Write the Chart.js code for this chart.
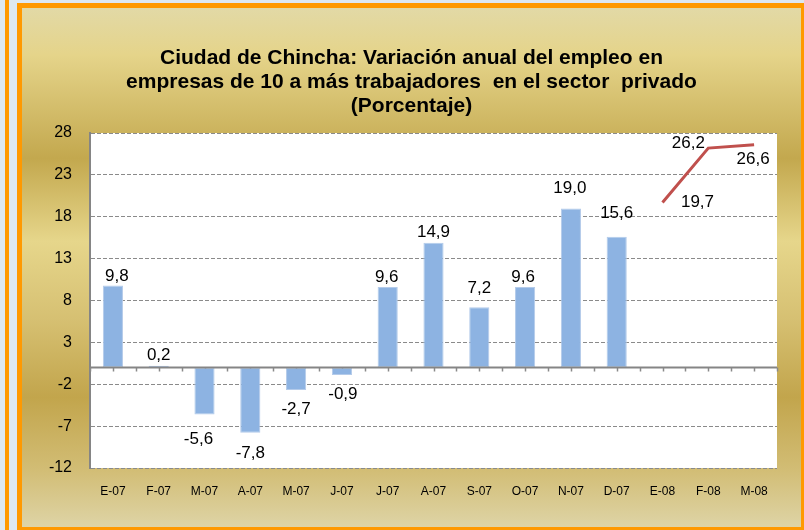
<!DOCTYPE html>
<html>
<head>
<meta charset="utf-8">
<script src="https://cdn.jsdelivr.net/npm/chart.js"></script>
<style>
  body { margin: 0; width: 804px; height: 530px; overflow: hidden; position: relative;
         background: #dde8f1; font-family: "Liberation Sans", Arial, sans-serif; }
  #stripe { position: absolute; left: 5px; top: 0; width: 4px; height: 530px; background: #ff9900; }
  #frame { position: absolute; left: 17px; top: 3px; width: 779px; height: 519px;
           border: solid #ff9900; border-width: 5px 3px 3px 5px;
           background: linear-gradient(to bottom, #e2d9a6 0%, #e5d48a 9%, #c3a84e 29%, #e6d68b 45%,
                                       #d6c072 60%, #c2a54c 75%, #d2bd75 89%, #ded4a6 100%); }
  canvas { display: block; }
</style>
</head>
<body>
<div id="stripe"></div>
<div id="frame"><canvas id="myChart" width="779" height="519"></canvas></div>
<script>
// datos
var meses = ['E-07', 'F-07', 'M-07', 'A-07', 'M-07', 'J-07', 'J-07', 'A-07', 'S-07', 'O-07', 'N-07', 'D-07', 'E-08', 'F-08', 'M-08'];
var var2007 = [9.8, 0.2, -5.6, -7.8, -2.7, -0.9, 9.6, 14.9, 7.2, 9.6, 19.0, 15.6, null, null, null];
var var2008 = [null, null, null, null, null, null, null, null, null, null, null, null, 19.7, 26.2, 26.6];
var yMin = -12;
var yMax = 28;
var yStep = 5;

var titulo = [
    'Ciudad de Chincha: Variación anual del empleo en',
    'empresas de 10 a más trabajadores  en el sector  privado',
    '(Porcentaje)'
];

// desplazamiento de etiquetas (px) respecto al extremo de cada marca
var offBarras = [[4, -9], [0, -11], [-6, 25], [0, 20], [0, 19], [1, 19], [-1, -10], [0, -10], [0, -19], [-2, -10], [-1, -20], [0, -24]];
var offLinea = { 12: [35, 0], 13: [-20, -5], 14: [-1, 15] };

var fondoPlot = {
    id: 'fondoPlot',
    beforeDraw: function (chart) {
        let a = chart.chartArea;
        let c = chart.ctx;
        c.save();
        c.fillStyle = '#ffffff';
        c.fillRect(a.left, a.top, a.right - a.left, a.bottom - a.top);

        // titulo
        c.fillStyle = '#000000';
        c.font = 'bold 21px "Liberation Sans", Arial, sans-serif';
        c.textAlign = 'center';
        c.textBaseline = 'middle';
        for (let i = 0; i < titulo.length; i++) {
            c.fillText(titulo[i], chart.width / 2, 50 + i * 24);
        }
        c.restore();
    },
    beforeDatasetsDraw: function (chart) {
        let a = chart.chartArea;
        let c = chart.ctx;
        let y0 = chart.scales.y.getPixelForValue(0);
        let paso = (a.right - a.left) / meses.length / 2;
        c.save();
        c.strokeStyle = '#8a8a8a';
        c.lineWidth = 1.5;
        c.beginPath();
        for (let i = 0; i <= meses.length * 2; i++) {
            let x = Math.round(a.left + i * paso) + 0.5;
            c.moveTo(x, y0);
            c.lineTo(x, y0 + 4);
        }
        c.stroke();
        c.restore();
    },
    afterDatasetsDraw: function (chart) {
        let a = chart.chartArea;
        let c = chart.ctx;
        let y0 = chart.scales.y.getPixelForValue(0);
        c.save();
        c.strokeStyle = '#858585';
        c.lineWidth = 2;
        c.beginPath();
        c.moveTo(a.left, y0);
        c.lineTo(a.right, y0);
        c.stroke();

        c.fillStyle = '#000000';
        c.font = '17px "Liberation Sans", Arial, sans-serif';
        c.textAlign = 'center';
        c.textBaseline = 'middle';

        let barras = chart.getDatasetMeta(0).data;
        for (let i = 0; i < barras.length; i++) {
            if (var2007[i] === null) continue;
            let o = offBarras[i] || [0, var2007[i] >= 0 ? -10 : 19];
            c.fillText(var2007[i].toFixed(1).replace('.', ','), barras[i].x + o[0], barras[i].y + o[1]);
        }
        let puntos = chart.getDatasetMeta(1).data;
        for (let i = 0; i < puntos.length; i++) {
            if (var2008[i] === null) continue;
            let o = offLinea[i] || [0, -12];
            c.fillText(var2008[i].toFixed(1).replace('.', ','), puntos[i].x + o[0], puntos[i].y + o[1]);
        }
        c.restore();
    }
};

var ctx = document.getElementById('myChart').getContext('2d');

var myChart = new Chart(ctx, {
    type: 'bar',
    data: {
        labels: meses,
        datasets: [{
            type: 'bar',
            label: '2007',
            data: var2007,
            backgroundColor: '#8db3e2',
            borderColor: '#b4cbea',
            borderWidth: 1,
            borderSkipped: false,
            barPercentage: 0.44,
            categoryPercentage: 1,
            order: 2
        }, {
            type: 'line',
            label: '2008',
            data: var2008,
            borderColor: '#c0504d',
            borderWidth: 3,
            pointRadius: 0,
            tension: 0,
            order: 1
        }]
    },
    options: {
        responsive: false,
        devicePixelRatio: 1,
        animation: false,
        layout: { padding: { left: 0, right: 24, top: 125, bottom: 12.6 } },
        plugins: {
            legend: { display: false },
            tooltip: { enabled: false },
            title: { display: false }
        },
        scales: {
            x: {
                grid: { display: false, drawTicks: false },
                border: { display: false },
                ticks: {
                    color: '#000000',
                    padding: 16,
                    maxRotation: 0,
                    autoSkip: false,
                    font: { family: '"Liberation Sans", Arial, sans-serif', size: 12 }
                }
            },
            y: {
                min: yMin,
                max: yMax,
                afterFit: function (scale) { scale.width = 68; },
                grid: { color: '#8a8a8a', lineWidth: 1, drawTicks: false },
                border: { display: true, color: '#858585', width: 2, dash: [4, 2] },
                ticks: {
                    stepSize: yStep,
                    color: '#000000',
                    padding: 18,
                    font: { family: '"Liberation Sans", Arial, sans-serif', size: 16 }
                }
            }
        }
    },
    plugins: [fondoPlot]
});
</script>
</body>
</html>
